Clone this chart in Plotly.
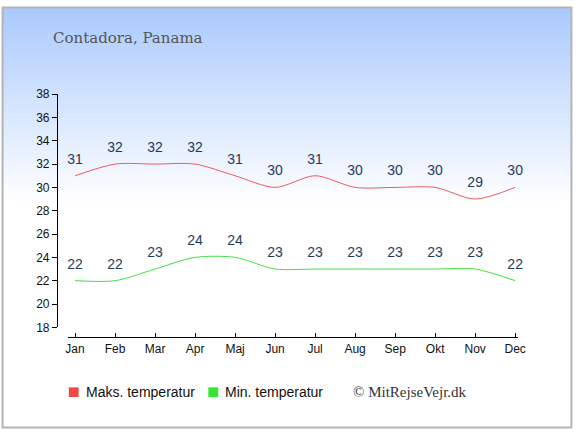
import plotly.graph_objects as go

W, H = 580, 435

months = ["Jan", "Feb", "Mar", "Apr", "Maj", "Jun", "Jul", "Aug", "Sep", "Okt", "Nov", "Dec"]
max_temp = [31, 32, 32, 32, 31, 30, 31, 30, 30, 30, 29, 30]
min_temp = [22, 22, 23, 24, 24, 23, 23, 23, 23, 23, 23, 22]
y_ticks = list(range(18, 39, 2))

label_color = "#2a3a5a"


def px_x(p):
    return p / W


def px_y(p):
    return 1 - p / H


fig = go.Figure()

for vals, col in [(max_temp, "#f05a5a"), (min_temp, "#44dd44")]:
    fig.add_trace(go.Scatter(
        x=months, y=vals, mode="lines+markers+text", text=[str(v) for v in vals],
        textposition="top center", cliponaxis=False,
        textfont=dict(size=14, color=label_color, family="Liberation Sans"),
        marker=dict(size=12, opacity=0),
        line=dict(color=col, width=1, shape="spline", smoothing=0.8),
        showlegend=False, hoverinfo="skip"))

# background gradient: light blue at top fading to white
shapes = []
top = (170, 202, 253)
n = 50
grad_h = 205
for i in range(n):
    t = i / (n - 1)
    c = tuple(round(top[k] + (255 - top[k]) * t) for k in range(3))
    y0 = i * grad_h / n
    y1 = (i + 1) * grad_h / n + 0.6
    shapes.append(dict(type="rect", xref="paper", yref="paper", layer="below",
                       x0=0, x1=1, y0=px_y(y1), y1=px_y(y0),
                       fillcolor="rgb(%d,%d,%d)" % c, line=dict(width=0)))
shapes.append(dict(type="rect", xref="paper", yref="paper", x0=0.001, x1=0.999, y0=0.001, y1=0.999,
                   line=dict(color="#b4b4b4", width=2), fillcolor="rgba(0,0,0,0)"))

# legend squares
legend_items = [("Maks. temperatur", "#f04848", 73), ("Min. temperatur", "#33e633", 215)]
annotations = []
for name, col, cx in legend_items:
    shapes.append(dict(type="rect", xref="paper", yref="paper",
                       x0=px_x(cx - 5), x1=px_x(cx + 5), y0=px_y(403), y1=px_y(393),
                       fillcolor=col, line=dict(width=0)))
    annotations.append(dict(text=name, xref="paper", yref="paper", x=px_x(cx + 10), y=px_y(398),
                            xanchor="left", yanchor="middle", showarrow=False,
                            font=dict(family="Liberation Sans", size=14, color="#111111")))

annotations += [
    dict(text="Contadora, Panama", xref="paper", yref="paper", x=px_x(50), y=px_y(32),
         xanchor="left", yanchor="middle", showarrow=False,
         font=dict(family="DejaVu Serif", size=15, color="#555555")),
    dict(text="© MitRejseVejr.dk", xref="paper", yref="paper", x=px_x(475), y=px_y(398),
         xanchor="right", yanchor="middle", showarrow=False,
         font=dict(family="Liberation Serif", size=15, color="#333333")),
]

fig.update_layout(
    width=W, height=H,
    margin=dict(l=0, r=0, t=0, b=0),
    paper_bgcolor="white",
    plot_bgcolor="rgba(0,0,0,0)",
    shapes=shapes,
    annotations=annotations,
    showlegend=False,
    font=dict(family="Liberation Sans", size=12, color="#111111"),
    xaxis=dict(domain=[px_x(67), px_x(525)], range=[-0.18, 11.07],
               anchor="free", position=px_y(341),
               showline=True, linecolor="black", linewidth=1.2,
               ticks="inside", ticklen=4, tickcolor="black", showgrid=False, zeroline=False,
               tickfont=dict(size=12, color="#111111")),
    yaxis=dict(domain=[px_y(331), px_y(90)], range=[18, 38],
               anchor="free", position=px_x(56),
               tickvals=y_ticks, showline=True, linecolor="black", linewidth=1.2,
               ticks="outside", ticklen=5, tickcolor="black", showgrid=False, zeroline=False,
               tickfont=dict(size=12, color="#111111")),
)

fig.write_html("out.html", config={"displayModeBar": False},
               post_script="document.body.style.margin='0';")
